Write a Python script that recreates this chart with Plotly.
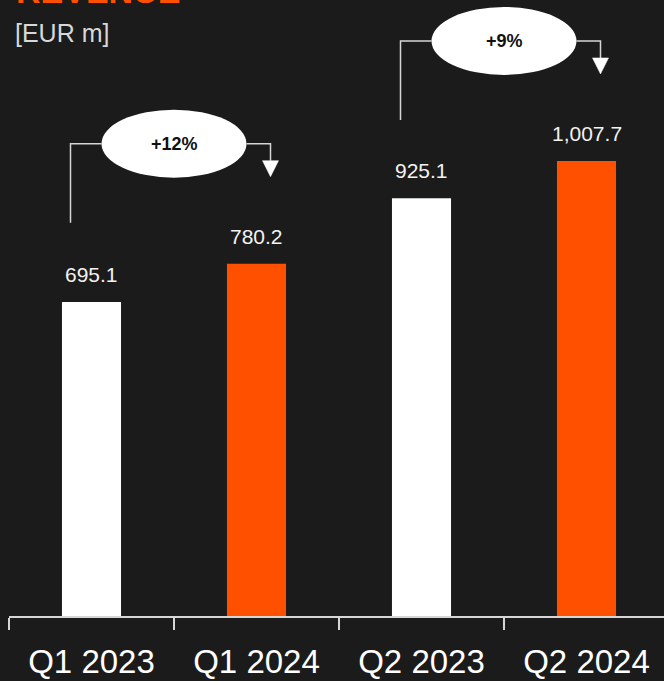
import plotly.graph_objects as go

categories = ["Q1 2023", "Q1 2024", "Q2 2023", "Q2 2024"]
revenue = [695.1, 780.2, 925.1, 1007.7]
value_labels = ["695.1", "780.2", "925.1", "1,007.7"]
bar_colors = ["#ffffff", "#ff5000", "#ffffff", "#ff5000"]
# growth comparisons: (from index, to index, label)
growth_pairs = [(0, 1, "+12%"), (2, 3, "+9%")]

BG = "#1b1b1b"
LINE = "#d6d6d6"
PX_PER_UNIT = 0.4516  # pixels per EUR m on the y axis
PLOT_H = 616
Y_MAX = PLOT_H / PX_PER_UNIT
CAT_PX = 165
LEFT = 9
PLOT_W = 664 - LEFT


def u(px):
    return px / PX_PER_UNIT


def cx(px):
    return px / CAT_PX


fig = go.Figure()
fig.add_trace(go.Bar(
    x=categories, y=revenue, width=0.358,
    marker=dict(color=bar_colors, line=dict(width=0)),
    hoverinfo="skip",
))

annotations = []
shapes = []
for i, (v, t) in enumerate(zip(revenue, value_labels)):
    annotations.append(dict(
        x=i, y=v, xref="x", yref="y", text=t, showarrow=False,
        yanchor="bottom", yshift=14,
        font=dict(family="Liberation Sans, Arial", size=21, color="#f2f2f2"),
    ))

for a, b, lab in growth_pairs:
    ybr = max(revenue[a], revenue[b]) + u(120)
    xl = a - cx(21)
    xr = b + cx(14)
    xm = (a + b) / 2
    ew = cx(145) / 2
    eh = u(68) / 2
    shapes.append(dict(type="path", xref="x", yref="y",
                       path=f"M {xl},{ybr - u(79)} L {xl},{ybr} L {xm - ew},{ybr}",
                       line=dict(color=LINE, width=1.5)))
    shapes.append(dict(type="path", xref="x", yref="y",
                       path=f"M {xm + ew},{ybr} L {xr},{ybr} L {xr},{ybr - u(17)}",
                       line=dict(color=LINE, width=1.5)))
    tw = cx(8)
    shapes.append(dict(type="path", xref="x", yref="y",
                       path=f"M {xr - tw},{ybr - u(17)} L {xr + tw},{ybr - u(17)} L {xr},{ybr - u(33)} Z",
                       fillcolor="#ffffff", line=dict(color="#ffffff", width=0.5)))
    shapes.append(dict(type="circle", xref="x", yref="y",
                       x0=xm - ew, x1=xm + ew, y0=ybr - eh, y1=ybr + eh,
                       fillcolor="#ffffff", line=dict(color="#ffffff", width=0)))
    annotations.append(dict(
        x=xm, y=ybr, xref="x", yref="y", text=f"<b>{lab}</b>", showarrow=False,
        font=dict(family="Liberation Sans, Arial", size=18, color="#111111"),
    ))

annotations.append(dict(
    x=5 / PLOT_W, y=1 + 9 / PLOT_H, xref="paper", yref="paper",
    text="<b>REVENUE</b>", showarrow=False, xanchor="left", yanchor="middle",
    font=dict(family="Liberation Sans, Arial", size=34, color="#ff5000"),
))
annotations.append(dict(
    x=4 / PLOT_W, y=1 - 33 / PLOT_H, xref="paper", yref="paper",
    text="[EUR m]", showarrow=False, xanchor="left", yanchor="middle",
    font=dict(family="Liberation Sans, Arial", size=25, color="#d8d8d8"),
))

fig.update_layout(
    width=664, height=681,
    margin=dict(l=LEFT, r=0, t=0, b=65),
    paper_bgcolor=BG, plot_bgcolor=BG,
    showlegend=False,
    shapes=shapes,
    annotations=annotations,
    xaxis=dict(
        type="category", range=[-0.5, -0.5 + PLOT_W / CAT_PX],
        showline=True, linecolor=LINE, linewidth=2,
        ticks="outside", tickson="boundaries", ticklen=12, tickwidth=2, tickcolor=LINE,
        showgrid=False, zeroline=False,
        tickfont=dict(family="Liberation Sans, Arial", size=33, color="#ffffff"),
        ticklabelstandoff=15,
    ),
    yaxis=dict(range=[0, Y_MAX], visible=False, showgrid=False, zeroline=False),
)

fig.write_html("out.html")
